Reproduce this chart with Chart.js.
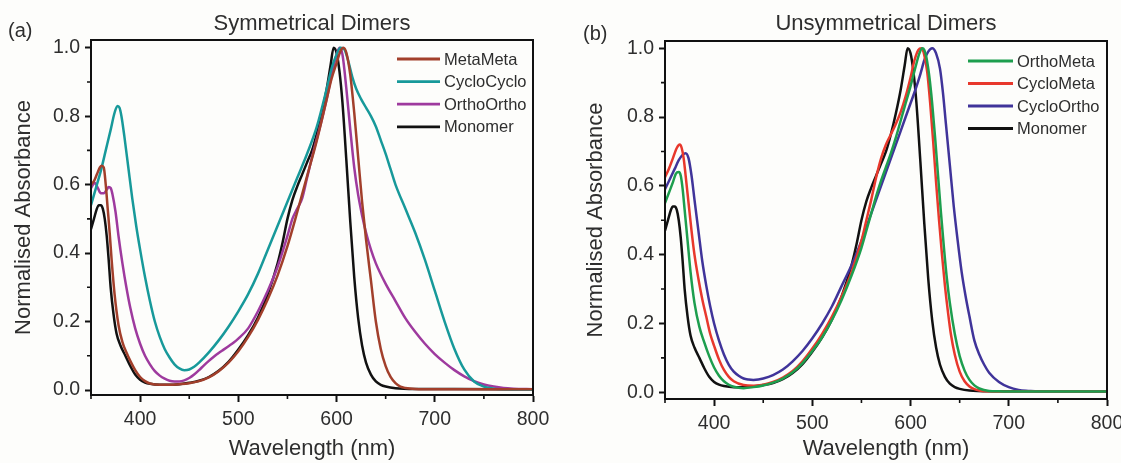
<!DOCTYPE html>
<html><head><meta charset="utf-8">
<script src="https://cdn.jsdelivr.net/npm/chart.js@4.4.1/dist/chart.umd.min.js"></script>
<style>
html,body{margin:0;padding:0;background:#fdfdfb;width:1121px;height:463px;overflow:hidden;position:relative}
canvas{position:absolute;top:0}
#ca{left:0}
#cb{left:560px}
</style></head><body>
<canvas id="ca" width="560" height="463"></canvas>
<canvas id="cb" width="580" height="463"></canvas>
<script>
// ---------- DATA ----------
const xTickValues = [400, 500, 600, 700, 800];
const yTickValues = [0.0, 0.2, 0.4, 0.6, 0.8, 1.0];

const monomerWl  = [350,353,356,358,360,362,364,366,368,370,373,376,380,385,390,395,400,405,410,420,430,440,450,460,470,480,490,500,510,520,530,540,545,550,555,560,565,570,575,580,585,590,594,597,600,603,606,610,614,618,622,626,630,635,640,645,650,660,680,720,800];
const monomerAbs = [0.47,0.50,0.53,0.54,0.54,0.53,0.50,0.45,0.38,0.30,0.22,0.165,0.13,0.10,0.07,0.045,0.03,0.022,0.018,0.015,0.015,0.017,0.021,0.027,0.038,0.056,0.082,0.118,0.16,0.212,0.28,0.37,0.43,0.50,0.555,0.595,0.63,0.665,0.70,0.75,0.81,0.88,0.95,1.0,0.985,0.93,0.84,0.67,0.49,0.33,0.21,0.13,0.08,0.045,0.025,0.015,0.01,0.005,0.003,0.003,0.002];

const metaMetaWl  = [350,353,356,359,361,363,365,367,369,371,374,378,382,386,390,395,400,405,410,420,430,440,450,460,470,480,490,500,510,520,530,540,550,560,570,580,590,595,600,604,607,610,614,618,622,626,630,635,640,645,650,655,660,665,670,680,700,800];
const metaMetaAbs = [0.60,0.61,0.63,0.65,0.655,0.65,0.60,0.53,0.46,0.38,0.28,0.19,0.14,0.11,0.085,0.058,0.038,0.026,0.019,0.015,0.015,0.017,0.02,0.026,0.037,0.055,0.08,0.113,0.155,0.205,0.265,0.335,0.42,0.52,0.625,0.73,0.85,0.91,0.955,0.99,1.0,0.985,0.92,0.81,0.68,0.55,0.44,0.32,0.2,0.12,0.07,0.038,0.02,0.01,0.006,0.003,0.002,0.002];

const cycloCycloWl  = [350,355,360,365,370,374,377,379,381,384,388,392,396,400,405,410,415,420,425,430,435,440,445,450,455,460,470,480,490,500,510,520,530,540,550,560,570,580,590,595,600,604,608,612,616,620,625,630,635,640,645,650,655,660,670,680,690,700,710,720,730,740,750,760,770,800];
const cycloCycloAbs = [0.54,0.59,0.64,0.70,0.76,0.81,0.83,0.825,0.80,0.74,0.65,0.56,0.48,0.41,0.33,0.26,0.20,0.155,0.12,0.095,0.075,0.063,0.058,0.06,0.068,0.08,0.11,0.145,0.185,0.23,0.28,0.34,0.41,0.48,0.55,0.62,0.69,0.77,0.88,0.94,0.98,1.0,0.995,0.96,0.915,0.88,0.85,0.825,0.80,0.77,0.73,0.69,0.645,0.60,0.53,0.46,0.38,0.29,0.20,0.12,0.06,0.025,0.01,0.004,0.002,0.001];

const orthoOrthoWl  = [350,352,354,357,360,363,366,368,370,372,375,378,382,386,390,395,400,405,410,415,420,425,430,435,440,445,450,455,460,465,470,475,480,485,490,495,500,510,520,530,540,550,555,560,565,570,575,580,585,590,595,600,603,606,610,614,618,622,626,630,635,640,650,660,670,680,690,700,710,720,730,740,750,760,770,780,800];
const orthoOrthoAbs = [0.59,0.60,0.605,0.59,0.575,0.575,0.585,0.593,0.59,0.57,0.52,0.45,0.37,0.30,0.24,0.18,0.135,0.10,0.075,0.055,0.042,0.033,0.027,0.025,0.025,0.028,0.035,0.045,0.058,0.072,0.085,0.097,0.108,0.118,0.128,0.138,0.15,0.18,0.23,0.29,0.36,0.45,0.50,0.53,0.56,0.62,0.68,0.735,0.79,0.85,0.92,0.98,1.0,0.98,0.88,0.76,0.65,0.57,0.51,0.46,0.41,0.37,0.31,0.26,0.21,0.17,0.135,0.105,0.08,0.058,0.04,0.026,0.016,0.01,0.006,0.004,0.002];

const orthoMetaWl  = [350,354,358,361,364,366,368,370,373,376,380,385,390,395,400,405,410,415,420,425,430,440,450,460,470,480,490,500,510,520,530,540,550,555,560,565,570,575,580,585,590,595,600,605,609,612,614,616,619,622,625,628,631,634,637,640,645,650,655,660,665,670,680,690,700,800];
const orthoMetaAbs = [0.55,0.58,0.61,0.635,0.64,0.63,0.59,0.53,0.44,0.35,0.26,0.19,0.145,0.105,0.072,0.048,0.032,0.022,0.016,0.013,0.012,0.015,0.02,0.028,0.04,0.058,0.085,0.12,0.16,0.21,0.27,0.34,0.42,0.47,0.52,0.57,0.615,0.655,0.695,0.74,0.79,0.84,0.89,0.945,0.985,1.0,0.995,0.975,0.92,0.84,0.74,0.63,0.52,0.42,0.33,0.26,0.17,0.105,0.063,0.036,0.02,0.011,0.004,0.003,0.002,0.002];

const cycloMetaWl  = [350,354,358,362,365,367,369,371,374,377,380,384,388,392,396,400,405,410,415,420,430,440,450,460,470,480,490,500,510,520,530,540,550,555,560,565,570,575,580,585,590,595,600,604,608,611,614,617,620,623,626,629,632,635,638,641,645,650,655,660,665,670,680,700,800];
const cycloMetaAbs = [0.625,0.65,0.68,0.71,0.72,0.71,0.68,0.63,0.55,0.47,0.40,0.33,0.27,0.22,0.17,0.135,0.095,0.065,0.045,0.032,0.021,0.019,0.022,0.03,0.043,0.062,0.09,0.127,0.17,0.22,0.28,0.35,0.44,0.5,0.56,0.625,0.68,0.72,0.75,0.78,0.815,0.86,0.915,0.965,0.995,1.0,0.98,0.93,0.84,0.73,0.61,0.50,0.40,0.31,0.235,0.17,0.11,0.06,0.032,0.017,0.009,0.005,0.003,0.002,0.002];

const cycloOrthoWl  = [350,355,360,364,368,371,374,377,380,384,388,392,396,400,405,410,415,420,425,430,435,440,445,450,460,470,480,490,500,510,520,530,540,550,560,570,580,585,590,595,600,605,610,614,618,622,626,630,633,636,640,644,648,652,656,660,665,670,675,680,690,700,710,720,730,800];
const cycloOrthoAbs = [0.59,0.62,0.65,0.675,0.69,0.695,0.68,0.63,0.56,0.47,0.38,0.31,0.25,0.2,0.15,0.11,0.08,0.06,0.048,0.04,0.037,0.036,0.037,0.04,0.05,0.066,0.09,0.12,0.157,0.2,0.25,0.31,0.37,0.44,0.52,0.6,0.68,0.72,0.76,0.8,0.84,0.88,0.925,0.965,0.99,1.0,0.985,0.94,0.87,0.78,0.66,0.54,0.44,0.35,0.28,0.22,0.15,0.11,0.08,0.057,0.03,0.015,0.007,0.004,0.002,0.002];

// ---------- STYLE ----------
const FONT = "'Liberation Sans', Arial, Helvetica, sans-serif";
const TEXT = '#2e2e2e';
const AXIS = '#111111';

function pts(wl, ab) { return wl.map((w, i) => ({ x: w, y: ab[i] })); }
function ds(label, wl, ab, color) {
  return { label, data: pts(wl, ab), borderColor: color, backgroundColor: color, borderWidth: 2.5,
           pointRadius: 0, cubicInterpolationMode: 'monotone', fill: false };
}

const framePlugin = {
  id: 'frame',
  afterDatasetsDraw(chart, args, o) {
    const { ctx, chartArea: a, scales } = chart;
    ctx.save();
    ctx.strokeStyle = AXIS; ctx.lineWidth = 2;
    ctx.strokeRect(a.left, a.top, a.right - a.left, a.bottom - a.top);
    ctx.lineWidth = 1.6;
    ctx.beginPath();
    for (const v of o.minorX) {
      const px = scales.x.getPixelForValue(v);
      ctx.moveTo(px, a.bottom); ctx.lineTo(px, a.bottom + 4);
    }
    for (const v of o.minorY) {
      const py = scales.y.getPixelForValue(v);
      ctx.moveTo(a.left, py); ctx.lineTo(a.left - 4, py);
    }
    ctx.stroke();
    ctx.font = '16.5px ' + FONT; ctx.textBaseline = 'middle'; ctx.textAlign = 'left';
    chart.data.datasets.forEach((d, i) => {
      const y = o.legY + i * o.legDy;
      ctx.strokeStyle = d.borderColor; ctx.lineWidth = 2.8;
      ctx.beginPath(); ctx.moveTo(o.legX, y); ctx.lineTo(o.legX + o.legLen, y); ctx.stroke();
      ctx.fillStyle = TEXT;
      ctx.fillText(d.label, o.legX + o.legLen + 4, y + 1);
    });
    ctx.fillStyle = TEXT;
    ctx.font = '22px ' + FONT; ctx.textAlign = 'center';
    ctx.fillText(o.title, (a.left + a.right) / 2, o.titleY);
    ctx.font = '20px ' + FONT; ctx.textAlign = 'left';
    ctx.fillText(o.letter, o.letterX, o.letterY);
    ctx.restore();
  }
};

function makeChart(id, datasets, c) {
  const tickFont = { family: FONT, size: 19.5 };
  const titleFont = { family: FONT, size: 22 };
  return new Chart(document.getElementById(id), {
    type: 'line',
    data: { datasets },
    options: {
      responsive: false, animation: false, devicePixelRatio: 1,
      layout: { padding: { left: 0, right: c.padRight, top: c.padTop, bottom: 0 } },
      plugins: {
        legend: { display: false }, tooltip: { enabled: false }, title: { display: false },
        frame: c.frame
      },
      scales: {
        x: {
          type: 'linear', min: 350, max: 800,
          afterFit: s => { s.height = c.xAxisH; },
          afterBuildTicks: s => { s.ticks = xTickValues.map(v => ({ value: v })); },
          ticks: { autoSkip: false, maxRotation: 0, padding: 6, color: TEXT, font: tickFont },
          grid: { drawOnChartArea: false, drawTicks: true, tickLength: 7, tickWidth: 2, tickColor: AXIS },
          border: { display: true, width: 2, color: AXIS },
          title: { display: true, text: 'Wavelength (nm)', color: TEXT, font: titleFont, padding: { top: 0, bottom: c.xTitlePad } }
        },
        y: {
          type: 'linear', min: c.yMin, max: c.yMax,
          afterFit: s => { s.width = c.yAxisW; },
          afterBuildTicks: s => { s.ticks = yTickValues.map(v => ({ value: v })); },
          ticks: { autoSkip: false, padding: 5, color: TEXT, font: tickFont, callback: v => Number(v).toFixed(1) },
          grid: { drawOnChartArea: false, drawTicks: true, tickLength: 6, tickWidth: 2, tickColor: AXIS },
          border: { display: true, width: 2, color: AXIS },
          title: { display: true, text: 'Normalised Absorbance', color: TEXT, font: titleFont, padding: { top: c.yTitlePad, bottom: 0 } }
        }
      }
    },
    plugins: [framePlugin]
  });
}

const minorX = [350, 450, 550, 650, 750];
const minorY = [0.1, 0.3, 0.5, 0.7, 0.9];

makeChart('ca', [
  ds('MetaMeta', metaMetaWl, metaMetaAbs, '#a23f2b'),
  ds('CycloCyclo', cycloCycloWl, cycloCycloAbs, '#17999a'),
  ds('OrthoOrtho', orthoOrthoWl, orthoOrthoAbs, '#9e3a9e'),
  ds('Monomer', monomerWl, monomerAbs, '#111111')
], {
  padRight: 27, padTop: 40, xAxisH: 68, yAxisW: 91, yMin: -0.0146, yMax: 1.0225,
  xTitlePad: 1, yTitlePad: 11,
  frame: { minorX, minorY, legX: 397, legY: 59, legDy: 22.6, legLen: 43,
           title: 'Symmetrical Dimers', titleY: 24, letter: '(a)', letterX: 8, letterY: 31 }
});

makeChart('cb', [
  ds('OrthoMeta', orthoMetaWl, orthoMetaAbs, '#1d9e4e'),
  ds('CycloMeta', cycloMetaWl, cycloMetaAbs, '#e8382c'),
  ds('CycloOrtho', cycloOrthoWl, cycloOrthoAbs, '#40349a'),
  ds('Monomer', monomerWl, monomerAbs, '#111111')
], {
  padRight: 33, padTop: 41, xAxisH: 64, yAxisW: 105, yMin: -0.0195, yMax: 1.021,
  xTitlePad: 1, yTitlePad: 23,
  frame: { minorX, minorY, legX: 408, legY: 61, legDy: 22.5, legLen: 45,
           title: 'Unsymmetrical Dimers', titleY: 24, letter: '(b)', letterX: 23, letterY: 34 }
});
</script>
</body></html>
